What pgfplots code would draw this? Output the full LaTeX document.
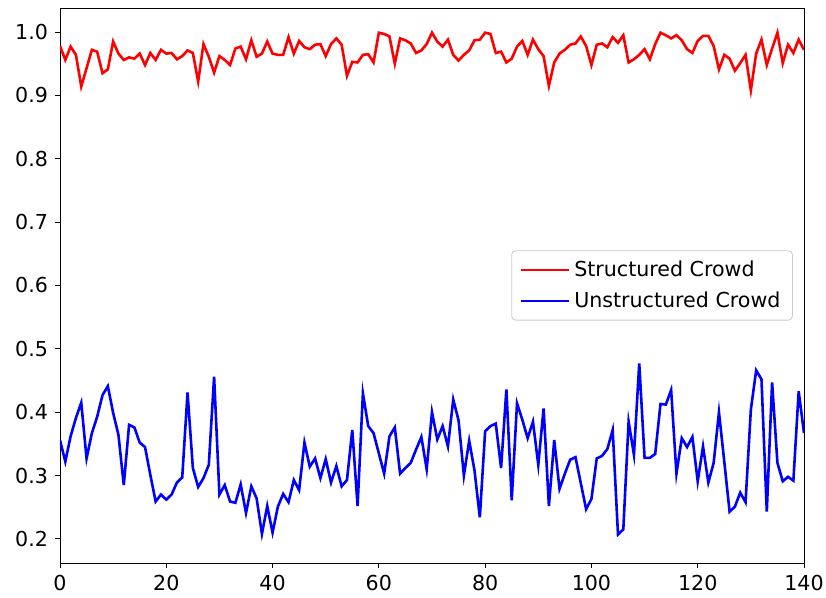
\documentclass[border=0pt]{standalone}
\usepackage{pgfplots}
\pgfplotsset{compat=1.18}
\usepackage{pgfplotstable}
\usepackage{fontspec}
\setmainfont{DejaVu Sans}
\pgfplotstableread{
x r b
0 0.978 0.356
1 0.956 0.322
2 0.977 0.362
3 0.964 0.391
4 0.914 0.415
5 0.943 0.327
6 0.972 0.367
7 0.969 0.393
8 0.935 0.427
9 0.941 0.441
10 0.985 0.399
11 0.966 0.364
12 0.956 0.285
13 0.960 0.380
14 0.958 0.376
15 0.966 0.352
16 0.948 0.345
17 0.967 0.301
18 0.956 0.259
19 0.972 0.270
20 0.966 0.262
21 0.967 0.270
22 0.957 0.289
23 0.962 0.297
24 0.971 0.431
25 0.967 0.312
26 0.922 0.282
27 0.981 0.296
28 0.961 0.317
29 0.936 0.456
30 0.962 0.270
31 0.956 0.285
32 0.948 0.259
33 0.974 0.257
34 0.977 0.286
35 0.957 0.241
36 0.987 0.283
37 0.961 0.264
38 0.966 0.208
39 0.985 0.252
40 0.966 0.210
41 0.964 0.251
42 0.964 0.271
43 0.992 0.258
44 0.966 0.293
45 0.986 0.277
46 0.976 0.352
47 0.973 0.314
48 0.980 0.327
49 0.981 0.296
50 0.962 0.326
51 0.981 0.289
52 0.990 0.315
53 0.980 0.283
54 0.931 0.293
55 0.953 0.372
56 0.952 0.252
57 0.964 0.430
58 0.965 0.378
59 0.952 0.367
60 0.999 0.335
61 0.997 0.303
62 0.993 0.362
63 0.950 0.376
64 0.990 0.303
65 0.987 0.312
66 0.982 0.320
67 0.967 0.341
68 0.971 0.361
69 0.981 0.310
70 0.999 0.400
71 0.985 0.357
72 0.977 0.378
73 0.988 0.346
74 0.964 0.420
75 0.955 0.387
76 0.964 0.300
77 0.971 0.355
78 0.987 0.308
79 0.988 0.234
80 0.999 0.370
81 0.997 0.378
82 0.967 0.382
83 0.969 0.312
84 0.952 0.436
85 0.958 0.261
86 0.977 0.414
87 0.986 0.388
88 0.964 0.359
89 0.988 0.385
90 0.973 0.317
91 0.962 0.406
92 0.915 0.252
93 0.952 0.356
94 0.966 0.279
95 0.972 0.303
96 0.980 0.325
97 0.982 0.329
98 0.993 0.288
99 0.978 0.247
100 0.948 0.263
101 0.980 0.327
102 0.982 0.331
103 0.976 0.342
104 0.992 0.372
105 0.983 0.207
106 0.995 0.215
107 0.952 0.385
108 0.957 0.333
109 0.964 0.477
110 0.973 0.328
111 0.957 0.328
112 0.981 0.334
113 0.999 0.413
114 0.995 0.412
115 0.990 0.435
116 0.995 0.303
117 0.987 0.359
118 0.973 0.345
119 0.967 0.361
120 0.986 0.291
121 0.994 0.346
122 0.994 0.289
123 0.978 0.320
124 0.941 0.400
125 0.964 0.322
126 0.958 0.243
127 0.939 0.251
128 0.951 0.273
129 0.964 0.258
130 0.908 0.404
131 0.966 0.466
132 0.988 0.452
133 0.948 0.243
134 0.974 0.447
135 0.999 0.320
136 0.951 0.291
137 0.980 0.298
138 0.967 0.292
139 0.988 0.433
140 0.972 0.367
}\datatable
\begin{document}
\begin{tikzpicture}
\begin{axis}[
  at={(0,0)}, anchor=south west,
  width=372pt, height=277.5pt, scale only axis,
  xmin=0, xmax=140, ymin=0.162, ymax=1.038,
  xtick={0,20,40,60,80,100,120,140},
  ytick={0.2,0.3,0.4,0.5,0.6,0.7,0.8,0.9,1.0},
  yticklabel style={/pgf/number format/.cd, fixed, fixed zerofill, precision=1},
  /pgf/number format/assume math mode=true,
  tick align=outside, tick pos=left, major tick length=2.5pt,
  tick style={black, line width=0.45pt},
  axis line style={line width=0.45pt},
  font=\fontsize{10.3}{12}\selectfont,
  legend style={at={(0.985,0.5)}, anchor=east, draw=black!20, rounded corners=2pt,
    font=\fontsize{10.3}{12}\selectfont, row sep=2pt, inner xsep=4pt, inner ysep=3pt},
  legend cell align=left,
  legend image code/.code={\draw[#1] (0pt,0pt) -- (24pt,0pt);},
]
\addplot[color=red, line width=1.3pt, mark=none] table[x=x, y=r] {\datatable};
\addlegendentry{Structured Crowd}
\addplot[color=blue, line width=1.3pt, mark=none] table[x=x, y=b] {\datatable};
\addlegendentry{Unstructured Crowd}
\end{axis}
\pgfresetboundingbox
\path[use as bounding box] (-30pt,-17.5pt) rectangle (383pt,281.5pt);
\end{tikzpicture}
\end{document}
